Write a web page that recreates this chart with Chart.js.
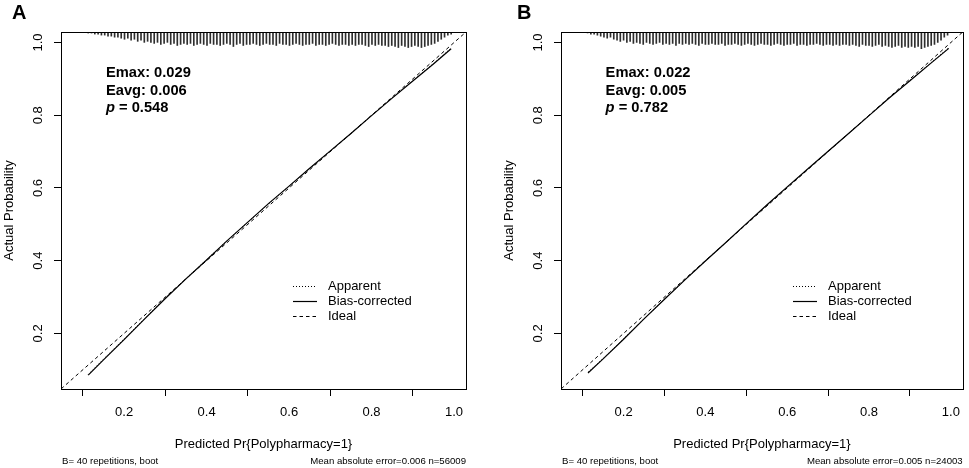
<!DOCTYPE html>
<html>
<head>
<meta charset="utf-8">
<title>Calibration curves</title>
<script src="https://cdn.jsdelivr.net/npm/chart.js@4.4.1/dist/chart.umd.min.js"></script>
<style>
    html, body { margin: 0; padding: 0; background: #fff; }
    #wrap { position: relative; width: 969px; height: 468px; overflow: hidden; }
    canvas { position: absolute; top: 0; }
    #panelA { left: 0; }
    #panelB { left: 484px; }
</style>
</head>
<body>
<div id="wrap">
    <canvas id="panelA" width="484" height="468"></canvas>
    <canvas id="panelB" width="485" height="468"></canvas>
</div>
<script>
// ---- values ----
const tickValues = [0.2, 0.4, 0.6, 0.8, 1.0];
const axisRange = [0.047, 1.029];
const idealX = [0, 1.1];

const calXA = [0.113, 0.15, 0.2, 0.25, 0.3, 0.35, 0.4, 0.45, 0.5, 0.55, 0.6, 0.65, 0.7, 0.75, 0.8, 0.85, 0.9, 0.95, 0.993];
const biasA = [0.085, 0.127, 0.183, 0.240, 0.296, 0.350, 0.402, 0.455, 0.506, 0.557, 0.605, 0.654, 0.702, 0.750, 0.799, 0.847, 0.894, 0.941, 0.983];
const apparentA = [0.087, 0.129, 0.185, 0.241, 0.297, 0.351, 0.403, 0.455, 0.506, 0.556, 0.605, 0.654, 0.702, 0.750, 0.799, 0.848, 0.895, 0.942, 0.985];

const calXB = [0.113, 0.15, 0.2, 0.25, 0.3, 0.35, 0.4, 0.45, 0.5, 0.55, 0.6, 0.65, 0.7, 0.75, 0.8, 0.85, 0.9, 0.95, 0.995];
const biasB = [0.091, 0.130, 0.184, 0.240, 0.294, 0.347, 0.399, 0.450, 0.502, 0.553, 0.603, 0.652, 0.701, 0.750, 0.799, 0.848, 0.895, 0.942, 0.984];
const apparentB = [0.093, 0.131, 0.185, 0.240, 0.294, 0.347, 0.399, 0.450, 0.501, 0.552, 0.602, 0.652, 0.701, 0.750, 0.799, 0.848, 0.896, 0.943, 0.986];

// relative spike heights of the predicted-risk histogram along the top
const spikesA = [
    1, 1, 2, 2, 3, 3, 4, 4, 5, 5,
    6, 7, 6, 8, 7, 9, 8, 10, 9, 10,
    11, 10, 12, 11, 10, 12, 11, 13, 12, 11,
    12, 11, 13, 12, 11, 12, 13, 11, 12, 12,
    13, 12, 11, 12, 14, 12, 11, 13, 12, 12,
    11, 12, 13, 12, 11, 12, 12, 13, 11, 12,
    12, 13, 12, 11, 12, 13, 12, 12, 11, 13,
    12, 12, 13, 12, 11, 12, 13, 12, 12, 13,
    12, 13, 12, 12, 13, 14, 12, 13, 12, 13,
    13, 14, 13, 14, 15, 13, 14, 15, 14, 13,
    14, 15, 14, 13, 12, 11, 9, 7, 5, 3,
    2
];
const spikesB = [
    1, 2, 2, 3, 4, 5, 6, 5, 7, 8,
    9, 8, 10, 9, 11, 10, 11, 12, 10, 11,
    12, 11, 10, 12, 11, 12, 11, 13, 11, 12,
    11, 12, 11, 12, 13, 11, 12, 12, 11, 12,
    12, 11, 13, 12, 12, 11, 12, 13, 12, 11,
    12, 13, 12, 11, 12, 12, 13, 12, 11, 12,
    13, 12, 12, 11, 13, 12, 12, 13, 12, 12,
    11, 12, 13, 12, 12, 13, 12, 13, 12, 12,
    13, 12, 13, 14, 12, 13, 13, 14, 13, 12,
    14, 13, 14, 15, 14, 13, 15, 14, 15, 14,
    15, 14, 16, 15, 14, 13, 12, 10, 8, 5,
    3
];
const spikeStartA = 0.113;
const spikeStartB = 0.112;
const spikeStep = 0.008;

const panelLetters = ['A', 'B'];
const emaxValues = ['0.029', '0.022'];
const eavgValues = ['0.006', '0.005'];
const pValues = ['0.548', '0.782'];
const meanAbsError = ['0.006', '0.005'];
const sampleSizes = [56009, 24003];
const repetitions = 40;
const legendLabels = ['Apparent', 'Bias-corrected', 'Ideal'];

// ---- drawing ----
const SPIKE_UNIT = 0.00285;   // one spike unit is roughly one pixel of the y axis
const FONT = "'Liberation Sans', Arial, Helvetica, sans-serif";
const LINE_DASH = { 'Apparent': [1, 2], 'Bias-corrected': [], 'Ideal': [3.5, 3] };

/**
 * Draws box, panel letter, statistics, legend and footer in R style
 */
const calDecor = {
    id: 'calDecor',
    afterDraw(chart, args, opts) {
        const { ctx, chartArea: a, scales } = chart;
        ctx.save();

        // plot box
        ctx.strokeStyle = '#000';
        ctx.lineWidth = 1;
        ctx.setLineDash([]);
        ctx.strokeRect(Math.round(a.left) + 0.5, Math.round(a.top) + 0.5,
            Math.round(a.right - a.left), Math.round(a.bottom - a.top));

        ctx.fillStyle = '#000';

        // panel letter
        ctx.font = `bold 20px ${FONT}`;
        ctx.textAlign = 'left';
        ctx.textBaseline = 'alphabetic';
        ctx.fillText(opts.letter, opts.letterX, 19);

        // Emax / Eavg / p
        const sx = scales.x.getPixelForValue(0.156);
        const sy = scales.y.getPixelForValue(0.915);
        ctx.font = `bold 14.7px ${FONT}`;
        ctx.textBaseline = 'middle';
        ctx.fillText(`Emax: ${opts.emax}`, sx, sy);
        ctx.fillText(`Eavg: ${opts.eavg}`, sx, sy + 17.5);
        ctx.font = `italic bold 14.7px ${FONT}`;
        ctx.fillText('p', sx, sy + 35);
        const pw = ctx.measureText('p').width;
        ctx.font = `bold 14.7px ${FONT}`;
        ctx.fillText(` = ${opts.p}`, sx + pw, sy + 35);

        // legend inside the plot
        ctx.font = `13px ${FONT}`;
        legendLabels.forEach((label, i) => {
            const y = Math.round(a.top + 254 + i * 15) + 0.5;
            ctx.beginPath();
            ctx.setLineDash(LINE_DASH[label]);
            ctx.lineWidth = label === 'Bias-corrected' ? 1.2 : 1;
            ctx.moveTo(a.left + 232, y);
            ctx.lineTo(a.left + 256, y);
            ctx.stroke();
            ctx.fillText(label, a.left + 267, y);
        });
        ctx.setLineDash([]);

        // footer
        ctx.font = `9.6px ${FONT}`;
        ctx.textAlign = 'left';
        ctx.fillText(`B= ${repetitions} repetitions, boot`, a.left + 1, 461);
        ctx.textAlign = 'right';
        ctx.fillText(`Mean absolute error=${opts.mae} n=${opts.n}`, a.right, 461);

        ctx.restore();
    }
};

const Calibration = {
    /**
     * Build both panels
     */
    init() {
        Chart.defaults.font.family = FONT;
        Chart.defaults.color = '#000';

        this.initPanel('panelA', 0, {
            calX: calXA, bias: biasA, apparent: apparentA,
            spikes: spikesA, spikeStart: spikeStartA,
            padLeft: 0, padRight: 18, letterX: 12
        });
        this.initPanel('panelB', 1, {
            calX: calXB, bias: biasB, apparent: apparentB,
            spikes: spikesB, spikeStart: spikeStartB,
            padLeft: 16, padRight: 4, letterX: 33
        });
    },

    /**
     * Spikes hang from the top of the plot
     */
    spikeBars(heights, start) {
        return heights.map((h, i) => ({
            x: start + i * spikeStep,
            y: [axisRange[1] - h * SPIKE_UNIT, axisRange[1]]
        }));
    },

    axis(extra) {
        return Object.assign({
            type: 'linear',
            min: axisRange[0],
            max: axisRange[1],
            offset: false,
            border: { display: false },
            grid: { drawOnChartArea: false, drawTicks: true, tickLength: 7, color: '#000', lineWidth: 1 },
            afterBuildTicks: (s) => { s.ticks = tickValues.map(v => ({ value: v })); }
        }, extra);
    },

    initPanel(canvasId, k, p) {
        const ctx = document.getElementById(canvasId).getContext('2d');

        new Chart(ctx, {
            type: 'line',
            data: {
                datasets: [{
                    type: 'bar',
                    label: 'spikes',
                    data: this.spikeBars(p.spikes, p.spikeStart),
                    backgroundColor: '#2e2e2e',
                    borderWidth: 0,
                    barThickness: 1,
                    order: 4
                }, {
                    label: 'Ideal',
                    data: idealX.map(v => ({ x: v, y: v })),
                    borderColor: '#000',
                    borderWidth: 1,
                    borderDash: LINE_DASH['Ideal'],
                    pointRadius: 0,
                    order: 3
                }, {
                    label: 'Bias-corrected',
                    data: p.calX.map((x, i) => ({ x, y: p.bias[i] })),
                    borderColor: '#000',
                    borderWidth: 1.2,
                    pointRadius: 0,
                    order: 2
                }, {
                    label: 'Apparent',
                    data: p.calX.map((x, i) => ({ x, y: p.apparent[i] })),
                    borderColor: '#000',
                    borderWidth: 1,
                    borderDash: LINE_DASH['Apparent'],
                    pointRadius: 0,
                    order: 1
                }]
            },
            options: {
                responsive: false,
                animation: false,
                events: [],
                layout: { padding: { left: p.padLeft, right: p.padRight, top: 32, bottom: 0 } },
                plugins: {
                    legend: { display: false },
                    tooltip: { enabled: false },
                    calDecor: {
                        letter: panelLetters[k], letterX: p.letterX,
                        emax: emaxValues[k], eavg: eavgValues[k], p: pValues[k],
                        mae: meanAbsError[k], n: sampleSizes[k]
                    }
                },
                scales: {
                    x: this.axis({
                        afterFit: (s) => { s.height = 79; },
                        ticks: { font: { size: 13 }, padding: 9, maxRotation: 0, autoSkip: false,
                            callback: (v) => v.toFixed(1) },
                        title: { display: true, text: 'Predicted Pr{Polypharmacy=1}', font: { size: 13 },
                            padding: { top: 0, bottom: 16 } }
                    }),
                    y: this.axis({
                        afterFit: (s) => { s.width = 61; },
                        ticks: { font: { size: 13 }, padding: 7, minRotation: 90, maxRotation: 90,
                            crossAlign: 'center', autoSkip: false, callback: (v) => v.toFixed(1) },
                        title: { display: true, text: 'Actual Probability', font: { size: 13 },
                            padding: { top: 2, bottom: 0 } }
                    })
                }
            },
            plugins: [calDecor]
        });
    }
};

Calibration.init();
</script>
</body>
</html>
